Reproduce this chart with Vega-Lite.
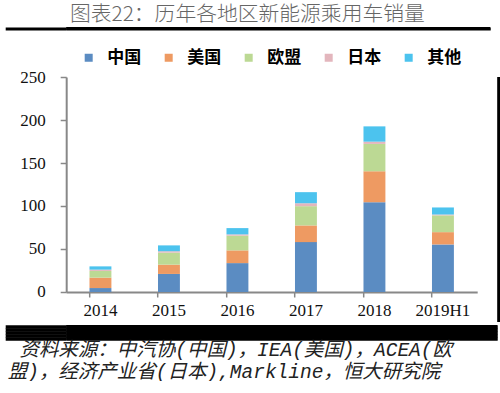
{
  "$schema": "https://vega.github.io/schema/vega-lite/v6.json",
  "padding": {"left": 3.2, "top": 3, "right": 0, "bottom": 0},
  "background": "white",
  "title": {
    "text": "图表22：历年各地区新能源乘用车销量",
    "anchor": "middle",
    "font": "Noto Sans CJK SC",
    "fontSize": 20.8,
    "fontWeight": 300,
    "color": "#666666",
    "offset": 0,
    "dx": -5
  },
  "config": {
    "view": {"stroke": null}
  },
  "columns": 1,
  "spacing": 36,
  "concat": [
    {
      "width": 424,
      "height": 3,
      "view": {"fill": "black", "stroke": null},
      "data": {"values": [{}]},
      "mark": {"type": "point", "opacity": 0},
      "encoding": {
        "y": {
          "datum": 0,
          "type": "quantitative",
          "scale": {"domain": [-1, 1]},
          "axis": {
            "values": [0],
            "title": null,
            "domain": false,
            "labels": false,
            "grid": true,
            "gridColor": "black",
            "gridWidth": 3,
            "gridOpacity": 1,
            "tickSize": 61,
            "tickWidth": 3,
            "tickColor": "black",
            "tickRound": false
          }
        }
      }
    },
    {
      "columns": 1,
      "spacing": 0,
      "concat": [
        {
          "spacing": 18,
          "hconcat": [
            {
              "width": 411,
              "height": 215,
              "data": {
                "values": [
                  {"year": "2014", "region": "中国", "value": 4.6},
                  {"year": "2014", "region": "美国", "value": 12.1},
                  {"year": "2014", "region": "欧盟", "value": 7.8},
                  {"year": "2014", "region": "日本", "value": 1.5},
                  {"year": "2014", "region": "其他", "value": 3.8},
                  {"year": "2015", "region": "中国", "value": 21.0},
                  {"year": "2015", "region": "美国", "value": 10.8},
                  {"year": "2015", "region": "欧盟", "value": 14.0},
                  {"year": "2015", "region": "日本", "value": 1.6},
                  {"year": "2015", "region": "其他", "value": 6.8},
                  {"year": "2016", "region": "中国", "value": 33.6},
                  {"year": "2016", "region": "美国", "value": 14.8},
                  {"year": "2016", "region": "欧盟", "value": 17.1},
                  {"year": "2016", "region": "日本", "value": 1.5},
                  {"year": "2016", "region": "其他", "value": 7.3},
                  {"year": "2017", "region": "中国", "value": 58.0},
                  {"year": "2017", "region": "美国", "value": 19.4},
                  {"year": "2017", "region": "欧盟", "value": 22.4},
                  {"year": "2017", "region": "日本", "value": 3.4},
                  {"year": "2017", "region": "其他", "value": 12.9},
                  {"year": "2018", "region": "中国", "value": 104.4},
                  {"year": "2018", "region": "美国", "value": 36.0},
                  {"year": "2018", "region": "欧盟", "value": 31.8},
                  {"year": "2018", "region": "日本", "value": 2.6},
                  {"year": "2018", "region": "其他", "value": 17.8},
                  {"year": "2019H1", "region": "中国", "value": 55.3},
                  {"year": "2019H1", "region": "美国", "value": 14.3},
                  {"year": "2019H1", "region": "欧盟", "value": 19.5},
                  {"year": "2019H1", "region": "日本", "value": 1.0},
                  {"year": "2019H1", "region": "其他", "value": 8.2}
                ]
              },
              "transform": [
                {"calculate": "indexof(['中国','美国','欧盟','日本','其他'], datum.region)", "as": "stackOrder"}
              ],
              "mark": {"type": "bar"},
              "encoding": {
                "x": {
                  "field": "year",
                  "type": "nominal",
                  "sort": null,
                  "scale": {"paddingInner": 0.68, "paddingOuter": 0.34},
                  "axis": {
                    "title": null,
                    "labelAngle": 0,
                    "bandPosition": 0,
                    "domainColor": "#888888",
                    "domainWidth": 2,
                    "tickColor": "#888888",
                    "tickWidth": 1.5,
                    "tickSize": 5,
                    "labelFont": "Liberation Serif",
                    "labelFontSize": 17,
                    "labelColor": "#111111",
                    "labelPadding": 6,
                    "labelOverlap": false,
                    "minExtent": 30,
                    "maxExtent": 30
                  }
                },
                "y": {
                  "field": "value",
                  "type": "quantitative",
                  "stack": "zero",
                  "scale": {"domain": [0, 250]},
                  "axis": {
                    "title": null,
                    "values": [0, 50, 100, 150, 200, 250],
                    "grid": false,
                    "domainColor": "#888888",
                    "domainWidth": 2,
                    "tickColor": "#888888",
                    "tickWidth": 1.5,
                    "tickSize": 6,
                    "labelFont": "Liberation Serif",
                    "labelFontSize": 17,
                    "labelColor": "#111111",
                    "labelPadding": 15,
                    "minExtent": 61,
                    "maxExtent": 61
                  }
                },
                "order": {"field": "stackOrder", "type": "quantitative", "sort": "ascending"},
                "color": {
                  "field": "region",
                  "type": "nominal",
                  "sort": ["中国", "美国", "欧盟", "日本", "其他"],
                  "scale": {
                    "domain": ["中国", "美国", "欧盟", "日本", "其他"],
                    "range": ["#5B8CC2", "#EE9A62", "#BCD994", "#E3B6BD", "#4CC3EE"]
                  },
                  "legend": {
                    "title": null,
                    "orient": "none",
                    "legendX": 14,
                    "legendY": 22,
                    "direction": "horizontal",
                    "symbolType": "square",
                    "symbolSize": 64,
                    "symbolStrokeWidth": 0,
                    "labelFont": "Noto Sans CJK SC",
                    "labelFontSize": 17,
                    "labelFontWeight": "bold",
                    "labelColor": "#000000",
                    "labelOffset": 10,
                    "columnPadding": 19,
                    "padding": 0
                  }
                }
              }
            },
            {
              "width": 3,
              "height": 245,
              "view": {"fill": "black", "stroke": null},
              "data": {"values": [{}]},
              "mark": {"type": "point", "opacity": 0},
              "encoding": {}
            }
          ]
        },
        {
          "width": 431,
          "height": 15,
          "view": {"fill": "black", "stroke": null},
          "data": {"values": [{}]},
          "mark": {"type": "point", "opacity": 0},
          "encoding": {
            "y": {
              "datum": 0,
              "type": "quantitative",
              "scale": {"domain": [0, 15], "reverse": true},
              "axis": {
                "values": [1.5, 4.5, 7.5, 10.5, 13.5],
                "title": null,
                "domain": false,
                "labels": false,
                "grid": true,
                "gridColor": "black",
                "gridWidth": 3.6,
                "gridOpacity": 1,
                "tickSize": 61,
                "tickWidth": 3.6,
                "tickColor": "black",
                "tickRound": false
              }
            },
            "x": {
              "datum": 0,
              "type": "quantitative",
              "axis": {
                "title": ["\u200b\u00a0资料来源：中汽协(中国)，IEA(美国)，ACEA(欧", "盟)，经济产业省(日本),Markline，恒大研究院"],
                "domain": false,
                "ticks": false,
                "labels": false,
                "grid": false,
                "titleAnchor": "start",
                "titleAlign": "left",
                "titleX": -59,
                "titleFont": "Liberation Mono, Noto Sans CJK SC",
                "titleFontSize": 19.5,
                "titleFontStyle": "italic",
                "titleFontWeight": "normal",
                "titleColor": "#222222",
                "titleLineHeight": 22,
                "titlePadding": 0.5
              }
            }
          }
        }
      ]
    }
  ]
}
